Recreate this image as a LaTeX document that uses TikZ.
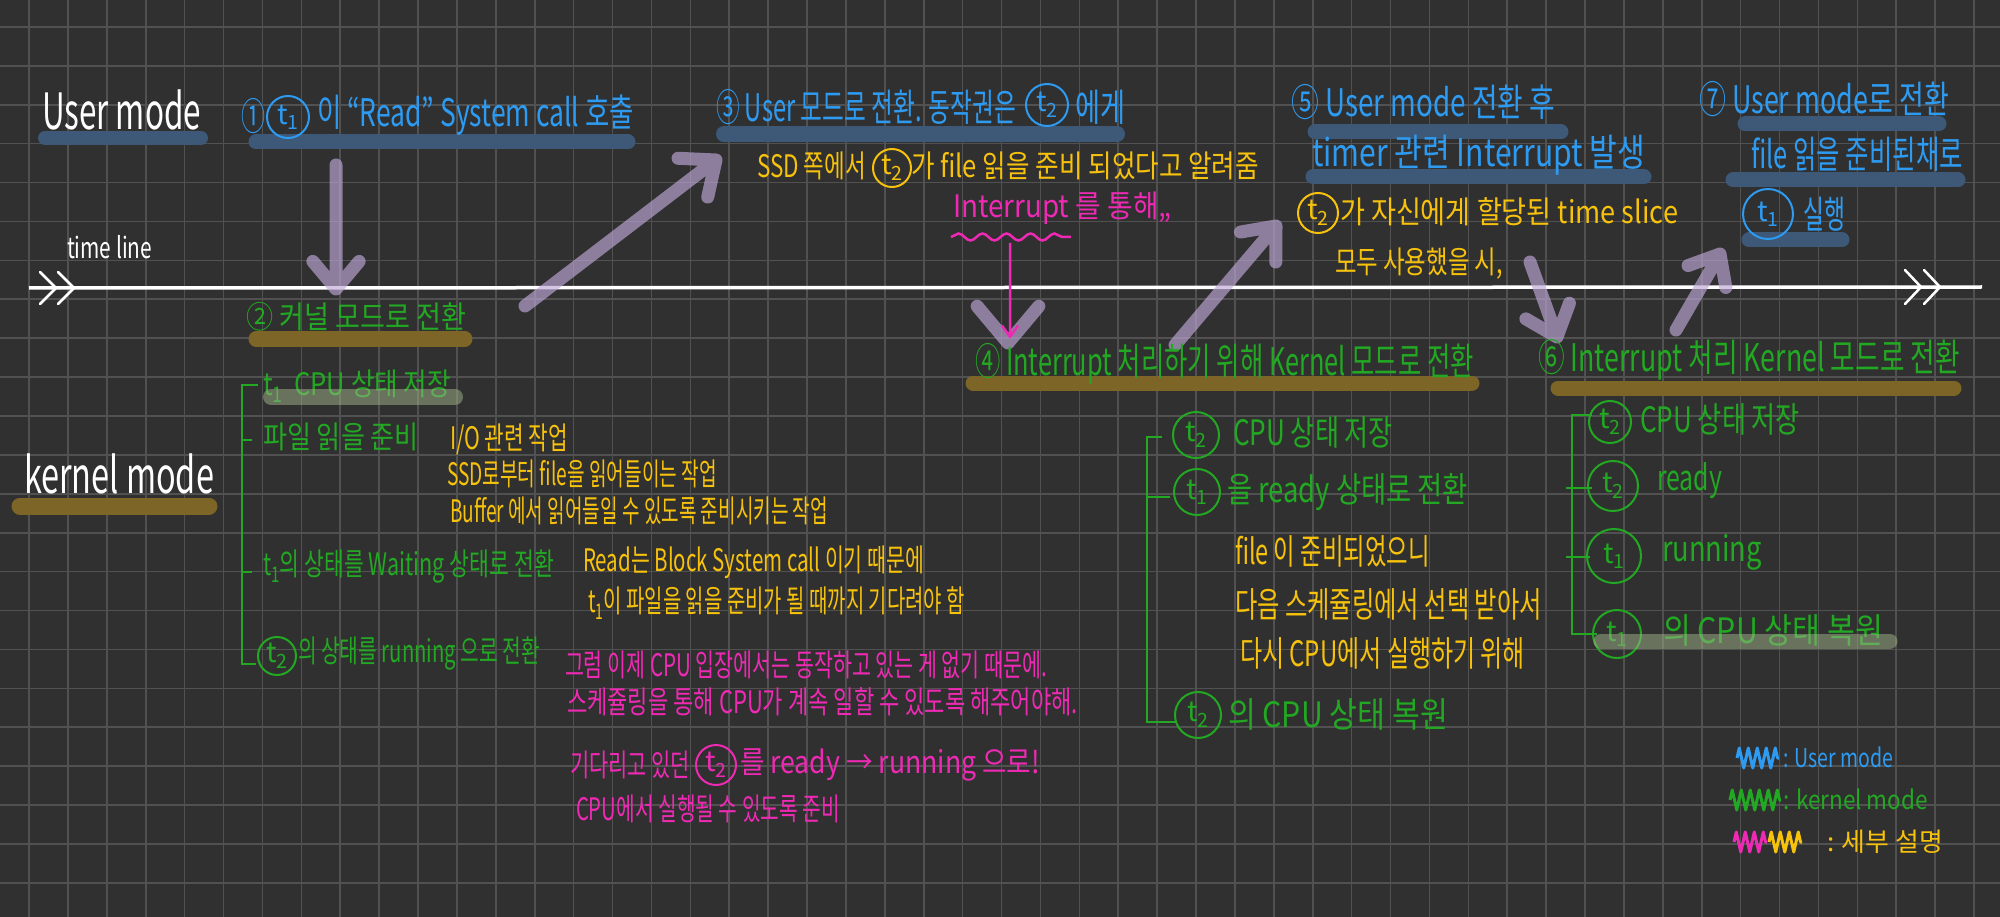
\documentclass[tikz,border=0pt]{standalone}
\usepackage{fontspec}
\setmainfont{Noto Sans CJK KR}
\usepackage{graphicx}
\usetikzlibrary{calc,decorations.pathmorphing}
\definecolor{bgc}{HTML}{303030}
\definecolor{gridc}{HTML}{515151}
\definecolor{ublue}{HTML}{2E9BF2}
\definecolor{kgreen}{HTML}{22A822}
\definecolor{dyellow}{HTML}{F7C20C}
\definecolor{dpink}{HTML}{EE2AB4}
\definecolor{barblue}{HTML}{3E5878}
\definecolor{bargold}{HTML}{7C6526}
\definecolor{bargreen}{HTML}{A0B48A}
\definecolor{arrowpurple}{HTML}{C0A8D8}
\newcommand{\fw}[2]{\resizebox{#1pt}{\height}{#2}}
\newcommand{\tsub}[1]{t\textsubscript{#1}}
\begin{document}
\begin{tikzpicture}[x=1pt,y=-1pt,
  txt/.style={anchor=west, inner sep=0pt, outer sep=0pt},
  big/.style={txt, font=\fontsize{50}{54}\selectfont, color=white},
  hd/.style={txt, font=\fontsize{38}{42}\selectfont},
  md/.style={txt, font=\fontsize{35}{38}\selectfont},
  bd/.style={txt, font=\fontsize{31}{34}\selectfont},
  lg/.style={txt, font=\fontsize{26}{28}\selectfont},
  ub/.style={color=ublue}, kg/.style={color=kgreen}, dy/.style={color=dyellow}, dp/.style={color=dpink},
  ct/.style={circle, draw, line width=2pt, inner sep=0pt, minimum size=#1, font=\fontsize{28}{30}\selectfont},
  hlblue/.style={line width=15pt, line cap=round, barblue},
  hlgold/.style={line width=15pt, line cap=round, bargold},
  hlgreen/.style={line width=16pt, line cap=round, bargreen, opacity=0.5},
  purp/.style={line width=13pt, line cap=round, line join=round, arrowpurple},
  brk/.style={kgreen, line width=2.5pt},
  tline/.style={white, line width=3.5pt},
  scrib/.style={line width=3pt, line join=round, decorate, decoration={zigzag, amplitude=10pt, segment length=9pt}}
]
\useasboundingbox (0,0) rectangle (2000,917);
\fill[bgc] (0,0) rectangle (2000,917);
\foreach \i in {0,...,51} \draw[gridc, line width=1.6pt] ({29+\i*38.9},0) -- ({29+\i*38.9},917);
\foreach \j in {0,...,23} \draw[gridc, line width=1.6pt] (0,{27+\j*38.9}) -- (2000,{27+\j*38.9});

% highlight bars
\draw[hlblue, line width=14pt] (45,138) -- (201,138);
\draw[hlblue] (256,142) -- (628,142);
\draw[hlblue, line width=16pt] (724,134) -- (1117,134);
\draw[hlblue] (1315,132) -- (1561,132);
\draw[hlblue] (1313,177) -- (1644,177);
\draw[hlblue] (1745,124) -- (1939,124);
\draw[hlblue] (1733,180) -- (1958,180);
\draw[hlblue] (1749,240) -- (1842,240);
\draw[hlgold] (256,339) -- (465,339);
\draw[hlgold, line width=17pt] (20,506) -- (209,506);
\draw[hlgold] (973,383) -- (1472,383);
\draw[hlgold] (1558,388) -- (1954,388);

% time line
\coordinate (tlL) at (29,288);
\coordinate (tlR) at (1982,287);
\draw[tline] (tlL) -- (tlR);
\draw[white, line width=2.5pt, line join=round, line cap=round] (40,272) -- (56,288) -- (40,304) (58,272) -- (74,288) -- (58,304);
\draw[white, line width=2.5pt, line join=round, line cap=round] (1905,270) -- (1921,287) -- (1905,304) (1924,270) -- (1940,287) -- (1924,304);

% purple arrows
\coordinate (a1s) at (336,165); \coordinate (a1e) at (336,289);
\coordinate (a2s) at (525,306); \coordinate (a2e) at (716,160);
\coordinate (a3s) at (1008,290); \coordinate (a3e) at (1008,343);
\coordinate (a4s) at (1175,345); \coordinate (a4e) at (1276,226);
\coordinate (a5s) at (1530,262); \coordinate (a5e) at (1557,337);
\coordinate (a6s) at (1676,330); \coordinate (a6e) at (1720,254);
\begin{scope}[transparency group, opacity=0.65]
\draw[purp] (a1s) -- (a1e) ($(a1e)!36pt!40:(a1s)$) -- (a1e) -- ($(a1e)!36pt!-40:(a1s)$);
\draw[purp] (a2s) -- (a2e) ($(a2e)!38pt!40:(a2s)$) -- (a2e) -- ($(a2e)!38pt!-40:(a2s)$);
\draw[purp] ($(a3e)!48pt!40:(a3s)$) -- (a3e) -- ($(a3e)!48pt!-40:(a3s)$);
\draw[purp] (a4s) -- (a4e) ($(a4e)!36pt!40:(a4s)$) -- (a4e) -- ($(a4e)!36pt!-40:(a4s)$);
\draw[purp] (a5s) -- (a5e) ($(a5e)!36pt!40:(a5s)$) -- (a5e) -- ($(a5e)!36pt!-40:(a5s)$);
\draw[purp] (a6s) -- (a6e) ($(a6e)!34pt!40:(a6s)$) -- (a6e) -- ($(a6e)!34pt!-40:(a6s)$);
\end{scope}

% white labels
\node[big] (um) at (42,110) {\fw{159}{User mode}};
\node[big] (km) at (24,474) {\fw{190}{kernel mode}};
\node[txt, font=\fontsize{29}{31}\selectfont, white] (tl) at (67,247) {\fw{85}{time line}};

% blue (user mode)
\node[hd, ub] (n1) at (241,116) {\fw{24}{①}};
\node[ct=42pt, ub] (c1) at (288,117) {\tsub{1}};
\node[hd, ub] (s1) at (317,115) {\fw{317}{이 “Read” System call 호출}};
\node[hd, ub] (s3) at (716,107) {\fw{300}{③ User 모드로 전환. 동작권은}};
\node[ct=42pt, ub] (c3) at (1047,105) {\tsub{2}};
\node[hd, ub] (s3b) at (1075,107) {\fw{50}{에게}};
\node[hd, ub] (s5a) at (1291,102) {\fw{264}{⑤ User mode 전환 후}};
\node[hd, ub] (s5b) at (1312,155) {\fw{333}{timer 관련 Interrupt 발생}};
\node[hd, ub] (s7a) at (1699,99) {\fw{250}{⑦ User mode로 전환}};
\node[hd, ub] (s7b) at (1751,154) {\fw{212}{file 읽을 준비된채로}};
\node[ct=50pt, ub] (c7) at (1768,214) {\tsub{1}};
\node[hd, ub] (s7c) at (1803,214) {\fw{42}{실행}};

% yellow / pink top
\node[bd, dy] (y1) at (757,166) {\fw{109}{SSD 쪽에서}};
\node[ct=38pt, dy] (cy1) at (892,168) {\tsub{2}};
\node[bd, dy] (y1b) at (911,166) {\fw{348}{가 file 읽을 준비 되었다고 알려줌}};
\node[bd, dp] (p1) at (953,208) {\fw{219}{Interrupt 를 통해„}};
\draw[dpink, line width=2.5pt, decorate, decoration={snake, amplitude=3.5pt, segment length=24pt}] (951,237) -- (1071,237);
\coordinate (pa1) at (1010,243); \coordinate (pa2) at (1010,337);
\draw[dpink, line width=2.5pt, line join=round] (pa1) -- (pa2) ($(pa2)!14pt!35:(pa1)$) -- (pa2) -- ($(pa2)!14pt!-35:(pa1)$);
\node[ct=40pt, dy] (cy2) at (1318,213) {\tsub{2}};
\node[bd, dy] (y2) at (1340,212) {\fw{338}{가 자신에게 할당된 time slice}};
\node[bd, dy] (y3) at (1335,264) {\fw{168}{모두 사용했을 시,}};

% green left (kernel)
\node[bd, kg] (g2) at (246,317) {\fw{220}{② 커널 모드로 전환}};
\node[bd, kg] (k1) at (263,386) {\fw{188}{\tsub{1}\ \ CPU 상태 저장}};
\node[bd, kg] (k2) at (263,437) {\fw{156}{파일 읽을 준비}};
\node[bd, kg] (k3) at (263,567) {\fw{291}{\tsub{1}의 상태를 Waiting 상태로 전환}};
\node[ct=38pt, kg] (ck4) at (277,656) {\tsub{2}};
\node[bd, kg] (k4) at (298,654) {\fw{242}{의 상태를 running 으로 전환}};
\draw[brk] (258,385) -- (242,385) -- (242,664) -- (256,664);
\draw[brk] (242,440) -- (252,440) (242,572) -- (252,572);

% yellow explanations left
\node[bd, dy] (e1) at (450,439) {\fw{118}{I/O 관련 작업}};
\node[bd, dy] (e2) at (447,474) {\fw{270}{SSD로부터 file을 읽어들이는 작업}};
\node[bd, dy] (e3) at (450,511) {\fw{378}{Buffer 에서 읽어들일 수 있도록 준비시키는 작업}};
\node[bd, dy] (e4) at (583,562) {\fw{341}{Read는 Block System call 이기 때문에}};
\node[bd, dy] (e5) at (588,603) {\fw{377}{\tsub{1}이 파일을 읽을 준비가 될 때까지 기다려야 함}};

% pink explanations
\node[bd, dp] (p2) at (565,665) {\fw{482}{그럼 이제 CPU 입장에서는 동작하고 있는 게 없기 때문에.}};
\node[bd, dp] (p3) at (567,702) {\fw{511}{스케쥴링을 통해 CPU가 계속 일할 수 있도록 해주어야해.}};
\node[bd, dp] (p4) at (570,765) {\fw{120}{기다리고 있던}};
\node[ct=40pt, dp] (cp4) at (716,765) {\tsub{2}};
\node[bd, dp] (p4b) at (740,765) {\fw{300}{를 ready → running 으로!}};
\node[bd, dp] (p5) at (576,809) {\fw{264}{CPU에서 실행될 수 있도록 준비}};

% middle kernel block
\node[hd, kg] (g4) at (975,364) {\fw{499}{④ Interrupt 처리하기 위해 Kernel 모드로 전환}};
\node[ct=46pt, kg] (cm1) at (1196,435) {\tsub{2}};
\node[md, kg] (m1) at (1233,432) {\fw{160}{CPU 상태 저장}};
\node[ct=46pt, kg] (cm2) at (1197,492) {\tsub{1}};
\node[md, kg] (m2) at (1227,492) {\fw{241}{을 ready 상태로 전환}};
\node[md, dy] (m3) at (1235,551) {\fw{195}{file 이 준비되었으니}};
\node[md, dy] (m4) at (1235,604) {\fw{307}{다음 스케쥴링에서 선택 받아서}};
\node[md, dy] (m5) at (1240,653) {\fw{285}{다시 CPU에서 실행하기 위해}};
\node[ct=46pt, kg] (cm6) at (1198,715) {\tsub{2}};
\node[md, kg] (m6) at (1228,714) {\fw{220}{의 CPU 상태 복원}};
\draw[brk] (1162,437) -- (1147,437) -- (1147,722) -- (1177,722);
\draw[brk] (1147,497) -- (1170,497);

% right kernel block
\node[hd, kg] (g6) at (1538,360) {\fw{422}{⑥ Interrupt 처리 Kernel 모드로 전환}};
\node[ct=42pt, kg] (cr1) at (1610,422) {\tsub{2}};
\node[md, kg] (r1) at (1640,419) {\fw{160}{CPU 상태 저장}};
\node[ct=50pt, kg] (cr2) at (1613,486) {\tsub{2}};
\node[md, kg] (r2) at (1657,481) {\fw{65}{ready}};
\node[ct=54pt, kg] (cr3) at (1614,556) {\tsub{1}};
\node[md, kg] (r3) at (1662,552) {\fw{100}{running}};
\node[ct=48pt, kg] (cr4) at (1617,634) {\tsub{1}};
\node[md, kg] (r4) at (1663,630) {\fw{220}{의 CPU 상태 복원}};
\draw[brk] (1592,415) -- (1572,415) -- (1572,634) -- (1597,634);
\draw[brk] (1566,488) -- (1592,488) (1566,557) -- (1590,557);

% translucent green highlights (over the text)
\draw[hlgreen] (271,397) -- (455,397);
\draw[hlgreen, line width=15pt] (1601,641) -- (1890,641);

% legend
\draw[ublue, scrib] (1737,758) -- (1779,758);
\node[lg, ub] (l1) at (1783,757) {\fw{110}{: User mode}};
\draw[kgreen, scrib] (1730,800) -- (1781,800);
\node[lg, kg] (l2) at (1783,799) {\fw{145}{: kernel mode}};
\draw[dpink, scrib] (1734,842) -- (1767,842);
\draw[dyellow, scrib] (1769,842) -- (1802,842);
\node[lg, dy] (l3) at (1827,842) {\fw{116}{: 세부 설명}};
\end{tikzpicture}
\end{document}
